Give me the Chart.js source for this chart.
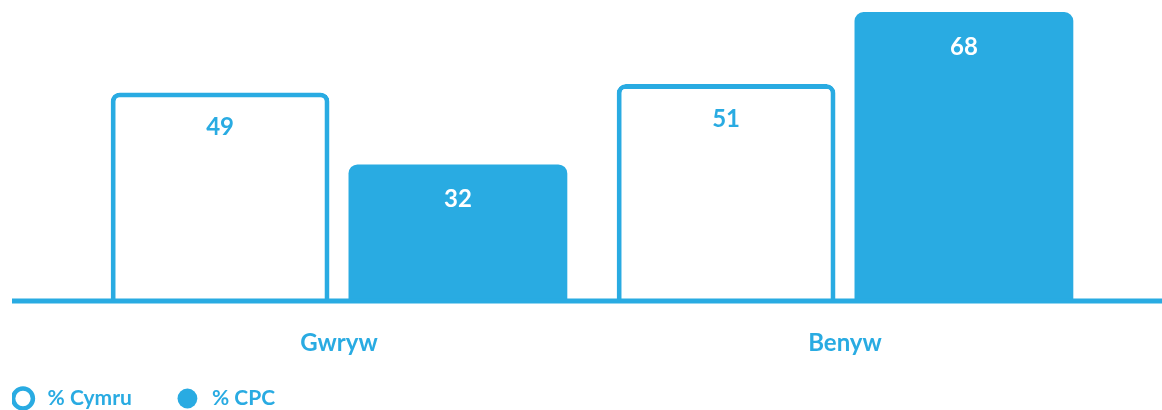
<!DOCTYPE html>
<html>
<head>
<meta charset="utf-8">
<script src="https://cdn.jsdelivr.net/npm/chart.js@4.4.1/dist/chart.umd.min.js"></script>
<style>
  html, body { margin: 0; padding: 0; background: #fff; }
  #wrap { width: 1162px; height: 410px; position: relative; }
</style>
</head>
<body>
<div id="wrap"><canvas id="chart"></canvas></div>
<script>
const categories = ['Gwryw', 'Benyw'];
const seriesNames = ['% Cymru', '% CPC'];
const cymruValues = [49, 51];
const cpcValues = [32, 68];

const blue = '#29abe2';
const fontFamily = 'Lato, "Open Sans", sans-serif';

// baseline across the whole width, like the original
const baselinePlugin = {
  id: 'baseline',
  afterDatasetsDraw(chart) {
    const { ctx, scales: { y } } = chart;
    const yPos = y.getPixelForValue(0) + 1;
    ctx.save();
    ctx.strokeStyle = blue;
    ctx.lineWidth = 5;
    ctx.beginPath();
    ctx.moveTo(12, yPos);
    ctx.lineTo(chart.width, yPos);
    ctx.stroke();
    ctx.restore();
  },
};

// value labels inside the top of each bar
const valueLabels = {
  id: 'valueLabels',
  afterDatasetsDraw(chart) {
    const { ctx } = chart;
    ctx.save();
    ctx.font = `bold 24px ${fontFamily}`;
    ctx.textAlign = 'center';
    ctx.textBaseline = 'middle';
    chart.data.datasets.forEach((ds, i) => {
      chart.getDatasetMeta(i).data.forEach((bar, j) => {
        ctx.fillStyle = i === 0 ? blue : '#ffffff';
        ctx.fillText(ds.data[j], bar.x, bar.y + 35);
      });
    });
    ctx.restore();
  },
};

new Chart(document.getElementById('chart').getContext('2d'), {
  type: 'bar',
  data: {
    labels: categories,
    datasets: [
      {
        label: seriesNames[0],
        data: cymruValues,
        backgroundColor: '#ffffff',
        borderColor: blue,
        borderWidth: { top: 5, left: 5, right: 5, bottom: 0 },
        borderRadius: 9,
        borderSkipped: 'bottom',
      },
      {
        label: seriesNames[1],
        data: cpcValues,
        backgroundColor: blue,
        borderColor: blue,
        borderWidth: 0,
        borderRadius: 9,
        borderSkipped: 'bottom',
      },
    ],
  },
  options: {
    responsive: true,
    maintainAspectRatio: false,
    animation: false,
    categoryPercentage: 0.94,
    barPercentage: 0.92,
    layout: { padding: { left: 12, right: 64, top: 12, bottom: -9 } },
    plugins: {
      tooltip: { enabled: false },
      legend: {
        position: 'bottom',
        align: 'start',
        labels: {
          usePointStyle: true,
          pointStyle: 'circle',
          boxWidth: 18,
          boxHeight: 14,
          padding: 2,
          color: blue,
          font: { family: fontFamily, size: 21, weight: 'bold' },
          generateLabels(chart) {
            return chart.data.datasets.map((ds, i) => ({
              text: i === 0 ? ' ' + ds.label + '\u2003\u2003\u2002\u2009' : ' ' + ds.label,
              fillStyle: ds.backgroundColor,
              strokeStyle: blue,
              lineWidth: i === 0 ? 4.5 : 0,
              pointStyle: 'circle',
              fontColor: blue,
              datasetIndex: i,
              hidden: false,
            }));
          },
        },
      },
    },
    scales: {
      x: {
        grid: { display: false, drawTicks: false },
        border: { display: false },
        ticks: {
          color: blue,
          padding: 29,
          font: { family: fontFamily, size: 24, weight: 'bold' },
        },
        afterFit(scale) { scale.height = 86; },
      },
      y: {
        min: 0,
        max: 68,
        grid: { display: false, drawTicks: false },
        border: { display: false },
        ticks: { display: false },
        afterFit(scale) { scale.width = 74; },
      },
    },
  },
  plugins: [baselinePlugin, valueLabels],
});
</script>
</body>
</html>
